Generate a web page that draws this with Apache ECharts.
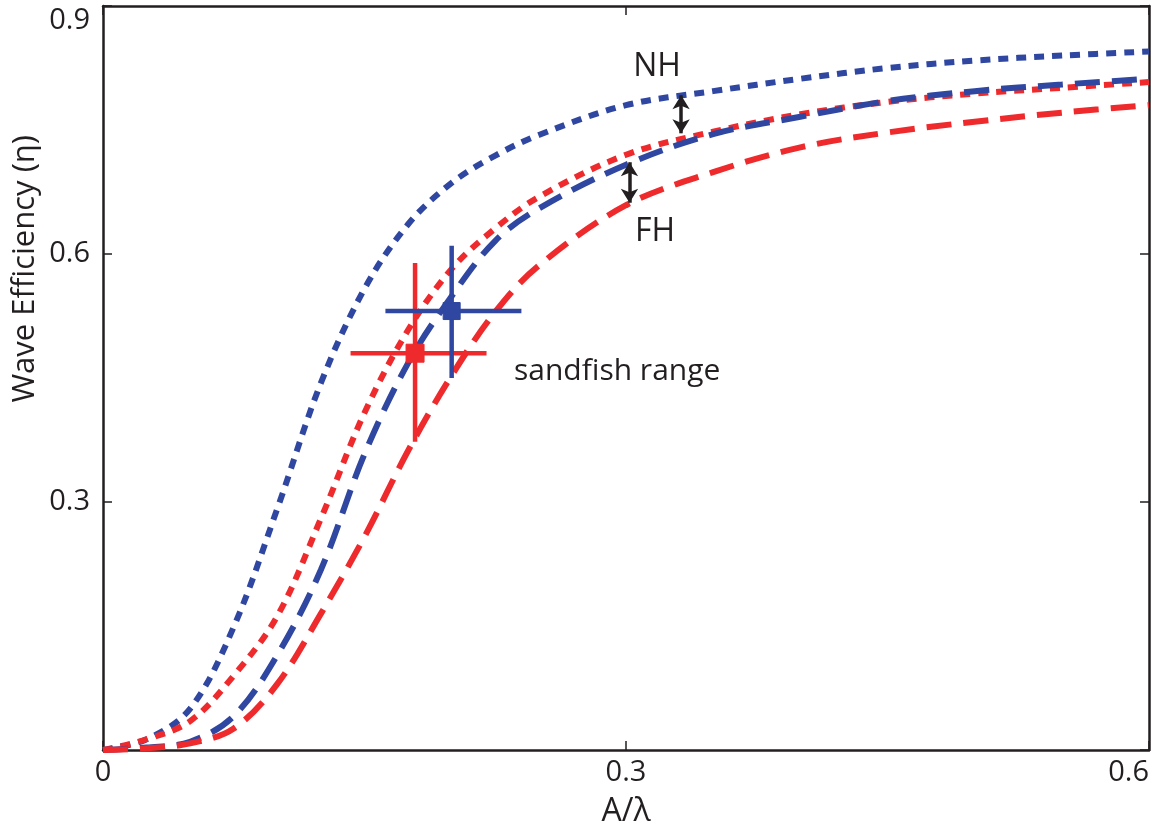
<!DOCTYPE html>
<html>
<head>
    <meta charset="utf-8">
    <title>Wave Efficiency</title>
    <script src="https://cdn.jsdelivr.net/npm/echarts@6/dist/echarts.min.js"></script>
    <style>
        html, body { margin: 0; padding: 0; background: #fff; }
        #main { width: 1157px; height: 830px; }
    </style>
</head>
<body>
<div id="main"></div>
<script>
    // A/lambda sample positions
    var xs = [0, 0.025, 0.05, 0.075, 0.1, 0.125, 0.15, 0.175, 0.2, 0.225, 0.25, 0.3, 0.35, 0.4, 0.45, 0.5, 0.55, 0.6];
    // wave efficiency
    var blueDotted = [0, 0.013, 0.05, 0.149, 0.292, 0.444, 0.558, 0.636, 0.686, 0.719, 0.744, 0.780, 0.797, 0.812, 0.825, 0.834, 0.840, 0.845];
    var redDotted  = [0, 0.013, 0.035, 0.090, 0.162, 0.280, 0.408, 0.508, 0.582, 0.631, 0.669, 0.720, 0.748, 0.769, 0.784, 0.794, 0.801, 0.808];
    var blueDashed = [0, 0.003, 0.010, 0.041, 0.115, 0.218, 0.358, 0.468, 0.549, 0.616, 0.655, 0.708, 0.745, 0.766, 0.785, 0.797, 0.805, 0.812];
    var redDashed  = [0, 0.002, 0.008, 0.026, 0.080, 0.165, 0.258, 0.362, 0.453, 0.530, 0.586, 0.659, 0.699, 0.729, 0.747, 0.760, 0.771, 0.780];

    // sandfish range: [x, y, xLow, xHigh, yLow, yHigh]
    var sandfishBlue = [0.200, 0.531, 0.162, 0.240, 0.450, 0.610];
    var sandfishRed  = [0.179, 0.480, 0.142, 0.220, 0.373, 0.589];

    // double arrows between curves: [x, yFrom, yTo]
    var arrowNH = [0.3316, 0.792, 0.746];
    var arrowFH = [0.302, 0.711, 0.662];

    var xTicks = [0, 0.3, 0.6];
    var yTicks = [0.3, 0.6, 0.9];

    var BLUE = '#2f47a0';
    var RED = '#ee2a2c';
    var INK = '#231f20';
    var FONT = '"Open Sans", "Noto Sans", sans-serif';

    function pairs(ys) {
        return xs.map(function (x, i) { return [x, ys[i]]; });
    }

    function curve(name, ys, color, dash) {
        return {
            name: name,
            type: 'line',
            data: pairs(ys),
            showSymbol: false,
            smooth: 0.35,
            lineStyle: { color: color, width: 6, type: dash, cap: 'butt' },
            silent: true,
            z: 3
        };
    }

    function errorBar(name, d, color, size) {
        return {
            name: name,
            type: 'custom',
            data: [d],
            z: 5,
            silent: true,
            renderItem: function (params, api) {
                var c = api.coord([api.value(0), api.value(1)]);
                var l = api.coord([api.value(2), api.value(1)]);
                var r = api.coord([api.value(3), api.value(1)]);
                var b = api.coord([api.value(0), api.value(4)]);
                var t = api.coord([api.value(0), api.value(5)]);
                var st = { stroke: color, lineWidth: 4.5 };
                return {
                    type: 'group',
                    children: [
                        { type: 'line', shape: { x1: l[0], y1: l[1], x2: r[0], y2: r[1] }, style: st },
                        { type: 'line', shape: { x1: b[0], y1: b[1], x2: t[0], y2: t[1] }, style: st },
                        { type: 'rect', shape: { x: c[0] - size / 2, y: c[1] - size / 2, width: size, height: size },
                          style: { fill: color, stroke: color, lineWidth: 1 } }
                    ]
                };
            }
        };
    }

    function arrow(a) {
        return [{ coord: [a[0], a[1]] }, { coord: [a[0], a[2]] }];
    }

    function tickStyle() {
        return { show: true, inside: true, length: 9, lineStyle: { color: INK, width: 1.5 } };
    }
    function lineStyle() {
        return { show: true, onZero: false, lineStyle: { color: INK, width: 2.5 } };
    }

    var chart = echarts.init(document.getElementById('main'));

    var option = {
        backgroundColor: '#fff',
        animation: false,
        grid: { left: 103, right: 8, top: 6, bottom: 80, containLabel: false, outerBoundsMode: 'none' },
        xAxis: [
            {
                type: 'value', min: 0, max: 0.6, interval: 0.3, position: 'bottom',
                axisLine: lineStyle(), axisTick: tickStyle(), splitLine: { show: false },
                axisLabel: {
                    color: INK, fontFamily: FONT, fontSize: 29, margin: 8,
                    alignMaxLabel: 'right',
                    formatter: function (v) { return xTicks.indexOf(+v.toFixed(2)) >= 0 ? String(+v.toFixed(2)) : ''; }
                },
                name: 'A/\u03bb', nameLocation: 'middle', nameGap: 46,
                nameTextStyle: { color: INK, fontFamily: FONT, fontSize: 32 }
            },
            {
                type: 'value', min: 0, max: 0.6, interval: 0.3, position: 'top',
                axisLine: lineStyle(), axisTick: tickStyle(), splitLine: { show: false },
                axisLabel: { show: false }
            }
        ],
        yAxis: [
            {
                type: 'value', min: 0, max: 0.9, interval: 0.3, position: 'left',
                axisLine: lineStyle(), axisTick: tickStyle(), splitLine: { show: false },
                axisLabel: {
                    color: INK, fontFamily: FONT, fontSize: 29, margin: 13,
                    showMinLabel: false,
                    verticalAlignMaxLabel: 'top',
                    formatter: function (v) { return yTicks.indexOf(+v.toFixed(2)) >= 0 ? String(+v.toFixed(2)) : ''; }
                }
            },
            {
                type: 'value', min: 0, max: 0.9, interval: 0.3, position: 'right',
                axisLine: lineStyle(), axisTick: tickStyle(), splitLine: { show: false },
                axisLabel: { show: false }
            }
        ],
        series: [
            curve('NH dotted', blueDotted, BLUE, [10, 8]),
            curve('FH dotted', redDotted, RED, [10, 8]),
            curve('NH dashed', blueDashed, BLUE, [25, 12]),
            curve('FH dashed', redDashed, RED, [25, 12]),
            errorBar('sandfish red', sandfishRed, RED, 18),
            errorBar('sandfish blue', sandfishBlue, BLUE, 17),
            {
                name: 'arrows',
                type: 'line',
                data: [],
                silent: true,
                markLine: {
                    silent: true,
                    symbol: ['arrow', 'arrow'],
                    symbolSize: [13, 14],
                    label: { show: false },
                    lineStyle: { color: INK, width: 3.5, type: 'solid' },
                    data: [arrow(arrowNH), arrow(arrowFH)]
                },
                z: 6
            }
        ],
        graphic: [
            {
                type: 'text', left: 10, top: 135,
                rotation: Math.PI / 2,
                style: { text: 'Wave Efficiency (\u03b7)', fill: INK, font: '31px ' + FONT }
            },
            { type: 'text', x: 657, y: 67, style: { text: 'NH', fill: INK, font: '32px ' + FONT, align: 'center', verticalAlign: 'middle' } },
            { type: 'text', x: 655, y: 232, style: { text: 'FH', fill: INK, font: '32px ' + FONT, align: 'center', verticalAlign: 'middle' } },
            { type: 'text', x: 514, y: 371, style: { text: 'sandfish range', fill: INK, font: '30px ' + FONT, align: 'left', verticalAlign: 'middle' } }
        ]
    };

    chart.setOption(option);
</script>
</body>
</html>
